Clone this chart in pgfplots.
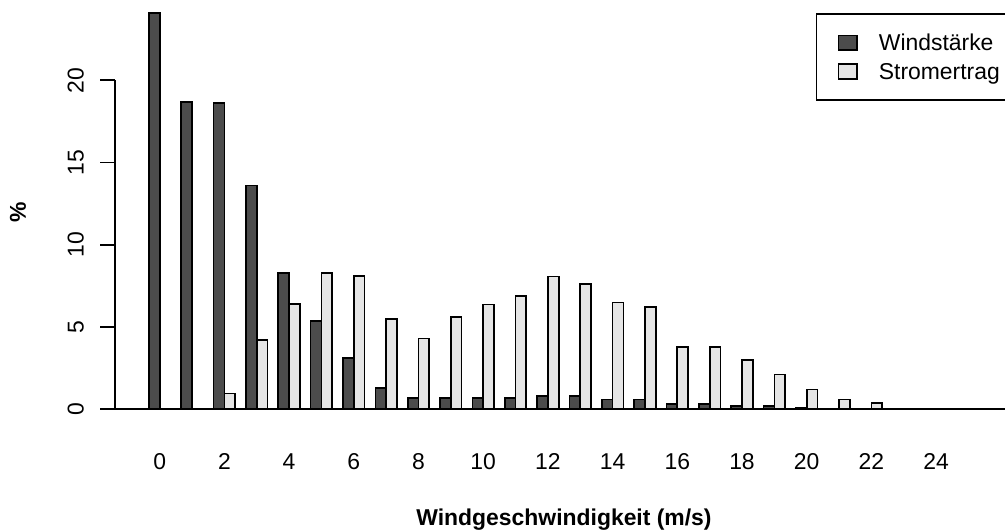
\documentclass[border=0pt]{standalone}
\usepackage{fontspec}
\setmainfont{Liberation Sans}
\usepackage{pgfplots}
\pgfplotsset{compat=1.18}
\usepackage{pgfplotstable}
\definecolor{darkbar}{gray}{0.30}
\definecolor{lightbar}{gray}{0.90}
\pgfplotsset{sqlegend/.style={legend image code/.code={\draw[##1, line width=1.7bp] (0bp,-7.2bp) rectangle (18.5bp,7.2bp); \path[draw=none, fill=none] (0bp,0bp) -- (40.5bp,0bp);}}}
\pgfplotstableread{
k dark light
0 24.07 0
1 18.70 0
2 18.60 0.97
3 13.60 4.21
4 8.27 6.40
5 5.39 8.27
6 3.10 8.10
7 1.31 5.49
8 0.68 4.30
9 0.68 5.60
10 0.68 6.38
11 0.68 6.89
12 0.82 8.08
13 0.82 7.60
14 0.59 6.50
15 0.59 6.20
16 0.31 3.79
17 0.31 3.79
18 0.22 3.00
19 0.22 2.11
20 0.10 1.20
21 0 0.59
22 0 0.39
23 0 0
24 0 0
25 0 0
}\datatable
\begin{document}
\begin{tikzpicture}[font=\fontsize{23}{27}\selectfont]
\useasboundingbox (0,0) rectangle (1005bp,530bp);
\clip (0,0) rectangle (1005bp,530bp);
\begin{axis}[
  at={(115.3bp,104.7bp)}, anchor=south west,
  scale only axis, width=889.7bp, height=425.3bp,
  xmin=-1.372, xmax=26.13, ymin=-0.97, ymax=24.88,
  clip=false,
  axis lines*=left, axis line style={draw=none},
  tick align=outside, major tick length=15bp,
  tick style={black, line width=1.7bp},
  tick pos=left,
  xtick={0,2,...,24}, xtick style={draw=none},
  ytick={0,5,10,15,20},
  /pgf/number format/assume math mode=true,
  ticklabel style={font=\fontsize{23}{27}\selectfont},
  yticklabel style={rotate=90, anchor=south, inner sep=0pt},
  yticklabel shift=16.3bp,
  xticklabel style={anchor=base, inner sep=0pt},
  xticklabel shift=28.7bp,
  xlabel={\bfseries Windgeschwindigkeit (m/s)},
  xlabel style={at={(axis description cs:0.5043,0)}, anchor=base, inner sep=0pt, yshift=-99.7bp, font=\fontsize{23}{27}\selectfont},
  ylabel={\bfseries\%},
  ylabel style={at={(axis description cs:-0.1094,0.5015)}, anchor=center, inner sep=0pt, font=\fontsize{23}{27}\selectfont},
  legend style={at={(axis description cs:0.7872,0.9687)}, anchor=north west,
    draw=black, line width=1.7bp, fill=white,
    inner xsep=21bp, inner ysep=17bp, row sep=5.4bp,
    font=\fontsize{23}{27}\selectfont,
    nodes={inner sep=0pt, text height=19.7bp, text depth=3.6bp}},
  legend cell align=left,
]
\addplot[ybar, bar width=10.79bp, bar shift=-5.395bp, fill=darkbar, draw=black, line width=1.7bp, sqlegend]
  table[x=k, y=dark]{\datatable};
\addlegendentry{Windstärke}
\addplot[ybar, bar width=10.79bp, bar shift=5.395bp, fill=lightbar, draw=black, line width=1.7bp, sqlegend]
  table[x=k, y=light]{\datatable};
\addlegendentry{Stromertrag}
\draw[black, line width=1.7bp] (axis cs:-1.372,0) -- (axis cs:26.13,0);
\draw[black, line width=1.7bp] (axis cs:-1.372,0) -- (axis cs:-1.372,20);
\end{axis}
\end{tikzpicture}
\end{document}
